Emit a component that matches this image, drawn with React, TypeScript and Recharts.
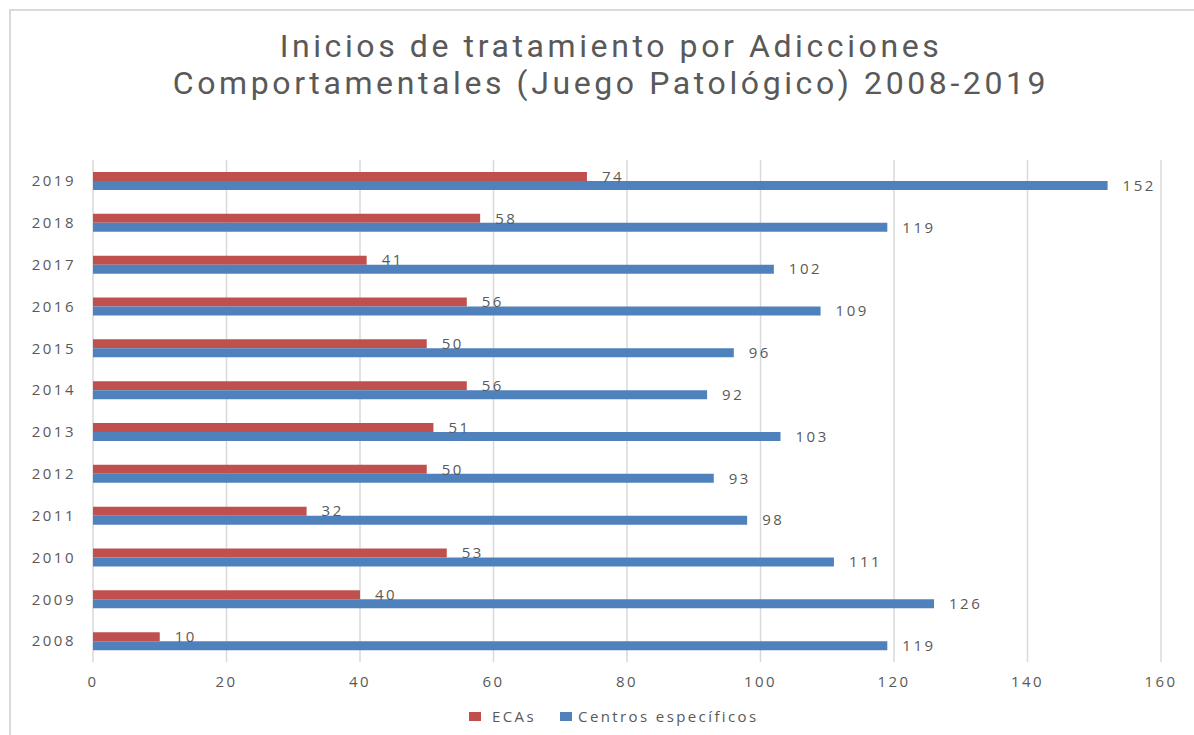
import React from 'react'
import { Bar, BarChart, CartesianGrid, XAxis, YAxis, LabelList } from 'recharts'

const years = ['2008', '2009', '2010', '2011', '2012', '2013', '2014', '2015', '2016', '2017', '2018', '2019']
const ecas = [10, 40, 53, 32, 50, 51, 56, 50, 56, 41, 58, 74]
const centros = [119, 126, 111, 98, 93, 103, 92, 96, 109, 102, 119, 152]
const xTicks = [0, 20, 40, 60, 80, 100, 120, 140, 160]

const data = years.map((y, i) => ({ year: y, ecas: ecas[i], centros: centros[i] }))

const font = "'Open Sans', sans-serif"
const gray = '#595959'
const numStyle = { fill: gray, fontSize: 15, fontFamily: font, letterSpacing: 2.5 }

function App() {
    return (
        <div style={{ position: 'absolute', left: 0, top: 0, width: 1194, height: 735, background: '#fff', fontFamily: font }}>
            <div style={{ position: 'absolute', left: 9, top: 9, width: 1185, height: 726, borderTop: '2px solid #d9d9d9', borderLeft: '2px solid #d9d9d9' }} />
            <div style={{ position: 'absolute', left: 0, top: 28, width: 1222, textAlign: 'center', color: gray, fontFamily: 'Roboto, sans-serif', fontWeight: 400, fontSize: 32, lineHeight: '37px', letterSpacing: 3.6 }}>
                Inicios de tratamiento por Adicciones
                <br />
                Comportamentales (Juego Patológico) 2008-2019
            </div>
            <div style={{ position: 'absolute', left: 0, top: 0 }}>
                <BarChart width={1194} height={735} data={data} layout="vertical" barGap={0}
                    margin={{ top: 160, right: 33, bottom: 43, left: 23 }}>
                    <CartesianGrid horizontal={false} stroke="#d9d9d9" strokeWidth={1.5} />
                    <XAxis type="number" domain={[0, 160]} ticks={xTicks} axisLine={false} tickLine={false}
                        tickSize={0} tickMargin={14} height={30} tick={numStyle} />
                    <YAxis type="category" dataKey="year" reversed axisLine={false} tickLine={false}
                        tickSize={0} tickMargin={17} width={70} tick={numStyle} />
                    <Bar dataKey="ecas" fill="#C0504D" barSize={9} isAnimationActive={false}>
                        <LabelList dataKey="ecas" position="right" offset={15} style={numStyle} />
                    </Bar>
                    <Bar dataKey="centros" fill="#4F81BD" barSize={9} isAnimationActive={false}>
                        <LabelList dataKey="centros" position="right" offset={15} style={numStyle} />
                    </Bar>
                </BarChart>
            </div>
            <div style={{ position: 'absolute', left: 469, top: 706, display: 'flex', alignItems: 'center', color: gray, fontSize: 15, letterSpacing: 2.4, whiteSpace: 'nowrap' }}>
                <span style={{ display: 'inline-block', width: 12, height: 9, background: '#C0504D', marginRight: 11 }} />
                <span style={{ marginRight: 24 }}>ECAs</span>
                <span style={{ display: 'inline-block', width: 12, height: 9, background: '#4F81BD', marginRight: 6 }} />
                <span>Centros específicos</span>
            </div>
        </div>
    )
}

export default App
